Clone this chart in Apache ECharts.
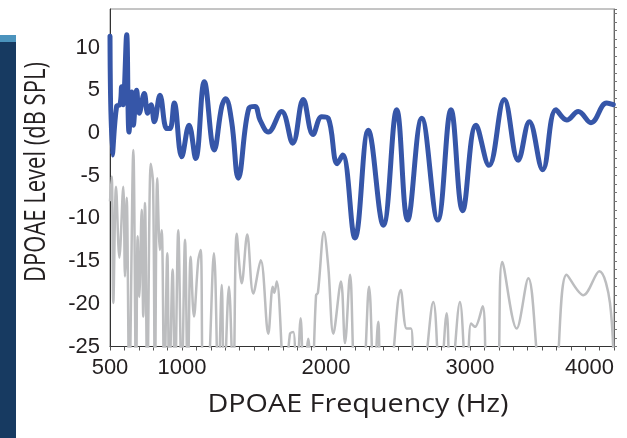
<!DOCTYPE html>
<html><head><meta charset="utf-8">
<script src="https://cdn.jsdelivr.net/npm/echarts@6/dist/echarts.min.js"></script>
<style>html,body{margin:0;padding:0;background:#fff}#c{width:627px;height:438px}</style>
</head><body><div id="c"></div>
<script>
// DPOAE (blue) – frequency in Hz, level in dB SPL
const dpFreq = [500,516,546,569,581,592,599,616,632,651,662,685,703,738,762,785,808,847,894,917,946,998,1049,1095,1155,1224,1276,1303,1345,1391,1465,1507,1542,1599,1692,1769,1842,1910,1970,2016,2078,2116,2201,2294,2398,2491,2567,2665,2776,2868,2949,3042,3132,3238,3335,3412,3505,3597,3672,3752,3840,3949,3995];
const dpLevel = [11.3,-2.6,3.1,3.3,5.4,3.3,4.8,11.5,0.1,4.8,0.9,5.0,2.3,4.6,2.3,3.3,1.3,4.4,0.5,0.5,3.5,-2.8,0.9,-3.0,6.0,-2.0,3.1,4.0,1.3,-5.3,2.9,3.1,1.5,0.1,2.5,-1.2,3.9,-0.2,1.9,1.7,-3.6,-2.6,-12.3,0.3,-10.8,2.7,-10.2,1.7,-10.2,2.7,-9.1,0.9,-3.8,3.9,-3.2,1.3,-4.3,2.7,1.5,2.5,1.2,3.5,3.3];
// Noise floor (grey)
const nfFreq = [500,512,523,542,565,592,604,616,634,662,681,692,703,720,731,743,759,783,799,812,828,847,859,877,898,912,935,951,974,998,1021,1040,1060,1083,1113,1130,1148,1171,1222,1252,1276,1292,1326,1356,1380,1415,1453,1495,1547,1599,1630,1641,1658,1715,1750,1773,1796,1824,1847,1877,1901,1931,1944,1986,2016,2051,2104,2132,2167,2208,2248,2299,2333,2363,2387,2426,2519,2560,2590,2618,2653,2745,2792,2838,2866,2930,2977,3007,3035,3088,3127,3185,3224,3324,3405,3509,3578,3671,3787,3898,3972,4000];
const nfLevel = [-8,-5.1,-19.9,-6.3,-14.6,-6.3,-16.8,-7.6,-30,-2.0,-30,-12.1,-19.2,-9.0,-21.5,-8.2,-30,-3.6,-5.9,-30,-5.3,-13.7,-11.4,-30,-14.1,-30,-16.0,-30,-11.4,-30,-12.5,-30,-14.5,-21.5,-14.9,-13.7,-30,-30,-14.1,-30,-17.8,-30,-18.0,-30,-11.8,-17.6,-11.9,-18.8,-14.9,-23.5,-18.0,-18.7,-17.4,-30,-23.5,-23.3,-30,-21.7,-30,-24.1,-30,-19.0,-18.7,-11.6,-15.7,-23.5,-17.4,-24.6,-16.6,-30,-30,-18.0,-30,-22.1,-30,-30,-18.4,-22.9,-22.9,-30,-30,-19.8,-30,-21.1,-30,-19.8,-30,-22.3,-22.7,-20.3,-30,-30,-15.1,-22.9,-17.0,-30,-30,-16.6,-19.0,-16.2,-19.9,-30];
const xLabels = [500,1000,2000,3000,4000];
const yLabels = [-25,-20,-15,-10,-5,0,5,10];

const chart = echarts.init(document.getElementById('c'), null, {renderer:'canvas'});
const zip = (a,b) => a.map((v,i)=>[v,b[i]]);
chart.setOption({
  animation:false,
  backgroundColor:'#fff',
  grid:{left:110,top:9,right:13,bottom:91.5,show:true,borderColor:'#8a8a8a',borderWidth:1},
  xAxis:{type:'value',min:500,max:4000,interval:100,
    axisLine:{show:true,onZero:false,lineStyle:{color:'#333',width:1}},
    axisTick:{show:true,length:4,lineStyle:{color:'#555'}},
    splitLine:{show:false},
    axisLabel:{interval:0,margin:10,fontFamily:'Liberation Sans, Arial, sans-serif',fontSize:22,color:'#231f20',
      alignMaxLabel:'right',
      formatter:v=>xLabels.indexOf(v)>=0?String(v):''}},
  yAxis:[{type:'value',min:-25,max:14.5,interval:5,
    axisLine:{show:true,onZero:false,lineStyle:{color:'#333',width:1}},
    axisTick:{show:false},splitLine:{show:false},
    axisLabel:{margin:10,fontFamily:'Liberation Sans, Arial, sans-serif',fontSize:22,color:'#231f20',
      showMaxLabel:false,formatter:v=>yLabels.indexOf(v)>=0?String(v):''}},
   {type:'value',position:'right',min:-25,max:14.5,interval:1,
    axisLine:{show:true,onZero:false,lineStyle:{color:'#666'}},
    axisTick:{show:true,length:3,lineStyle:{color:'#777'}},
    axisLabel:{show:false},splitLine:{show:false}}],
  series:[
    {type:'line',data:zip(nfFreq,nfLevel),smooth:0.35,symbol:'none',clip:true,
     lineStyle:{color:'#bcbdbf',width:2.5},z:2},
    {type:'line',data:zip(dpFreq,dpLevel),smooth:0.4,symbol:'none',clip:true,
     lineStyle:{color:'#3656a8',width:5,cap:'round',join:'round'},z:3}
  ],
  graphic:[
    {type:'rect',left:0,top:42,shape:{width:16,height:396},style:{fill:'#173a61'}},
    {type:'rect',left:0,top:35,shape:{width:16,height:7},style:{fill:'#4b93bd'}},
    {type:'text',x:358,y:405,style:{text:'DPOAE Frequency (Hz)',font:'25px "Open Sans", sans-serif',fill:'#231f20',align:'center',verticalAlign:'middle'},scaleX:1.15},
    {type:'text',x:37,y:172,rotation:Math.PI/2,style:{text:'DPOAE Level (dB SPL)',font:'22px "Open Sans", sans-serif',fill:'#231f20',align:'center',verticalAlign:'middle'},scaleY:1.3}
  ]
});
</script></body></html>
